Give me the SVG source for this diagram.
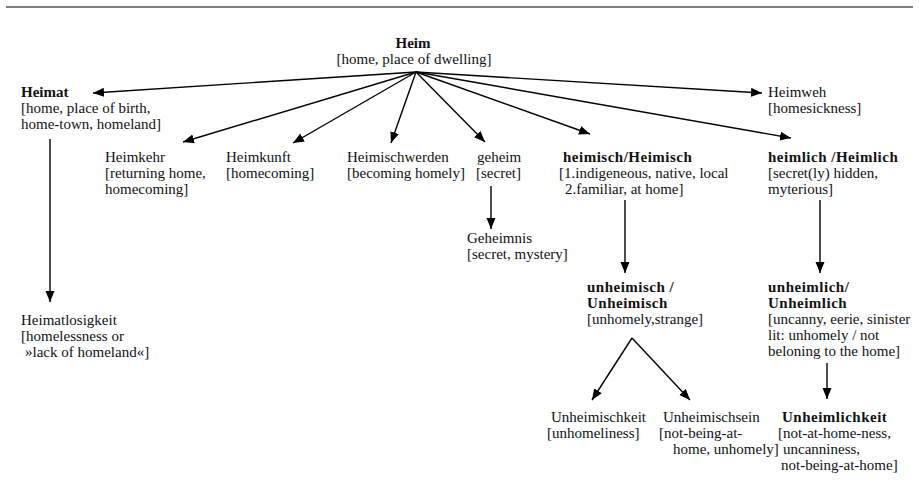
<svg xmlns="http://www.w3.org/2000/svg" width="919" height="481" viewBox="0 0 919 481">
<defs>
<marker id="ah" markerUnits="userSpaceOnUse" markerWidth="12" markerHeight="10" refX="11" refY="4.5" orient="auto">
<path d="M0,0 L11,4.5 L0,9 Z" fill="#000"/>
</marker>
<style>
text{font-family:"Liberation Serif","Times New Roman","DejaVu Serif",serif;font-size:15px;fill:#111}
.b{font-weight:bold}
.bs{font-weight:bold;letter-spacing:0.5px}
.c line{stroke:#000;stroke-width:1.4;fill:none}
.a{marker-end:url(#ah)}
</style>
</defs>
<rect width="919" height="481" fill="#fff"/>
<line x1="6" y1="7" x2="913" y2="7" stroke="#555" stroke-width="1.5"/>
<g class="c" id="connectors">
<line class="a" x1="416" y1="72" x2="93" y2="93"/>
<line class="a" x1="416" y1="72" x2="183" y2="142"/>
<line class="a" x1="416" y1="72" x2="293" y2="143"/>
<line class="a" x1="416" y1="72" x2="391" y2="143"/>
<line class="a" x1="416" y1="72" x2="485" y2="142"/>
<line class="a" x1="416" y1="72" x2="590" y2="134"/>
<line class="a" x1="416" y1="72" x2="791" y2="138"/>
<line class="a" x1="416" y1="72" x2="762" y2="93"/>
<line class="a" x1="50" y1="139" x2="50" y2="302"/>
<line class="a" x1="491" y1="186" x2="491" y2="229"/>
<line class="a" x1="625" y1="200" x2="625" y2="273"/>
<line class="a" x1="820" y1="200" x2="820" y2="273"/>
<line class="a" x1="632" y1="338" x2="592" y2="400"/>
<line class="a" x1="632" y1="338" x2="690" y2="400"/>
<line class="a" x1="827" y1="363" x2="827" y2="399"/>
</g>
<g id="heim"><text x="413" y="48" text-anchor="middle" class="b">Heim</text><text x="414" y="64" text-anchor="middle">[home, place of dwelling]</text></g>
<g id="heimat"><text x="21" y="97" class="b">Heimat</text><text x="21" y="113">[home, place of birth,</text><text x="21" y="129">home-town, homeland]</text></g>
<g id="heimweh"><text x="768" y="97">Heimweh</text><text x="768" y="113">[homesickness]</text></g>
<g id="heimkehr"><text x="105" y="162">Heimkehr</text><text x="105" y="178">[returning home,</text><text x="105" y="194">homecoming]</text></g>
<g id="heimkunft"><text x="226" y="162">Heimkunft</text><text x="226" y="178">[homecoming]</text></g>
<g id="heimischwerden"><text x="347" y="162">Heimischwerden</text><text x="347" y="178">[becoming homely]</text></g>
<g id="geheim"><text x="477" y="162">geheim</text><text x="476" y="178">[secret]</text></g>
<g id="geheimnis"><text x="467" y="243">Geheimnis</text><text x="467" y="259">[secret, mystery]</text></g>
<g id="heimisch"><text x="563" y="162" class="bs">heimisch/Heimisch</text><text x="559" y="178">[1.indigeneous, native, local</text><text x="565" y="194">2.familiar, at home]</text></g>
<g id="heimlich"><text x="768" y="162" class="bs">heimlich /Heimlich</text><text x="768" y="178">[secret(ly) hidden,</text><text x="768" y="194">myterious]</text></g>
<g id="heimatlosigkeit"><text x="21" y="325">Heimatlosigkeit</text><text x="21" y="341">[homelessness or</text><text x="25" y="357">»lack of homeland«]</text></g>
<g id="unheimisch"><text x="587" y="292" class="bs">unheimisch /</text><text x="587" y="308" class="bs">Unheimisch</text><text x="587" y="324">[unhomely,strange]</text></g>
<g id="unheimlich"><text x="768" y="292" class="bs">unheimlich/</text><text x="768" y="308" class="bs">Unheimlich</text><text x="768" y="324">[uncanny, eerie, sinister</text><text x="768" y="340">lit: unhomely / not</text><text x="768" y="356">beloning to the home]</text></g>
<g id="unheimischkeit"><text x="551" y="422">Unheimischkeit</text><text x="547" y="438">[unhomeliness]</text></g>
<g id="unheimischsein"><text x="663" y="422">Unheimischsein</text><text x="659" y="438">[not-being-at-</text><text x="673" y="454">home, unhomely]</text></g>
<g id="unheimlichkeit"><text x="782" y="422" class="bs">Unheimlichkeit</text><text x="778" y="438">[not-at-home-ness,</text><text x="783" y="454">uncanniness,</text><text x="781" y="470">not-being-at-home]</text></g>
</svg>
